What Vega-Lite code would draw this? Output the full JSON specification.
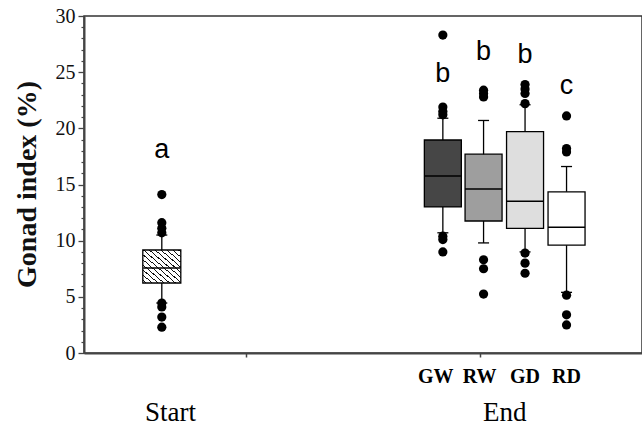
{
  "$schema": "https://vega.github.io/schema/vega-lite/v6.json",
  "width": 558,
  "height": 337,
  "autosize": {"type": "none"},
  "padding": {"left": 84, "top": 16, "right": 0, "bottom": 73},
  "background": "white",
  "config": {
    "view": {"stroke": "#333", "strokeWidth": 1.5},
    "axis": {"grid": false}
  },
  "resolve": {"axis": {"y": "independent"}},
  "datasets": {
    "boxes": [
      {"group": "Start", "pos": 0.93, "lo": 4.45, "q1": 6.23, "med": 7.57, "q3": 9.17, "hi": 10.5},
      {"group": "GW", "pos": 4.52, "lo": 10.7, "q1": 13.0, "med": 15.76, "q3": 18.96, "hi": 20.9},
      {"group": "RW", "pos": 5.04, "lo": 9.8, "q1": 11.75, "med": 14.6, "q3": 17.7, "hi": 20.7},
      {"group": "GD", "pos": 5.57, "lo": 9.0, "q1": 11.1, "med": 13.5, "q3": 19.7, "hi": 22.1},
      {"group": "RD", "pos": 6.1, "lo": 5.4, "q1": 9.6, "med": 11.2, "q3": 14.35, "hi": 16.6}
    ],
    "outliers": [
      {"group": "Start", "pos": 0.93, "value": 14.1},
      {"group": "Start", "pos": 0.93, "value": 11.6},
      {"group": "Start", "pos": 0.93, "value": 11.1},
      {"group": "Start", "pos": 0.93, "value": 10.7},
      {"group": "Start", "pos": 0.93, "value": 4.45},
      {"group": "Start", "pos": 0.93, "value": 4.1},
      {"group": "Start", "pos": 0.93, "value": 3.2},
      {"group": "Start", "pos": 0.93, "value": 2.3},
      {"group": "GW", "pos": 4.52, "value": 28.3},
      {"group": "GW", "pos": 4.52, "value": 21.9},
      {"group": "GW", "pos": 4.52, "value": 21.5},
      {"group": "GW", "pos": 4.52, "value": 21.2},
      {"group": "GW", "pos": 4.52, "value": 10.4},
      {"group": "GW", "pos": 4.52, "value": 10.1},
      {"group": "GW", "pos": 4.52, "value": 9.0},
      {"group": "RW", "pos": 5.04, "value": 23.4},
      {"group": "RW", "pos": 5.04, "value": 23.1},
      {"group": "RW", "pos": 5.04, "value": 22.8},
      {"group": "RW", "pos": 5.04, "value": 8.3},
      {"group": "RW", "pos": 5.04, "value": 7.5},
      {"group": "RW", "pos": 5.04, "value": 5.25},
      {"group": "GD", "pos": 5.57, "value": 23.9},
      {"group": "GD", "pos": 5.57, "value": 23.5},
      {"group": "GD", "pos": 5.57, "value": 23.1},
      {"group": "GD", "pos": 5.57, "value": 22.2},
      {"group": "GD", "pos": 5.57, "value": 8.9},
      {"group": "GD", "pos": 5.57, "value": 8.0},
      {"group": "GD", "pos": 5.57, "value": 7.1},
      {"group": "RD", "pos": 6.1, "value": 21.1},
      {"group": "RD", "pos": 6.1, "value": 18.2},
      {"group": "RD", "pos": 6.1, "value": 17.9},
      {"group": "RD", "pos": 6.1, "value": 5.15},
      {"group": "RD", "pos": 6.1, "value": 3.4},
      {"group": "RD", "pos": 6.1, "value": 2.5}
    ],
    "letters": [
      {"text": "a", "pos": 0.93, "y": 17.4},
      {"text": "b", "pos": 4.52, "y": 24.1},
      {"text": "b", "pos": 5.04, "y": 26.1},
      {"text": "b", "pos": 5.57, "y": 25.8},
      {"text": "c", "pos": 6.1, "y": 23.1}
    ],
    "groupLabels": [
      {"text": "GW", "pos": 4.43, "y": -2.14},
      {"text": "RW", "pos": 4.99, "y": -2.14},
      {"text": "GD", "pos": 5.57, "y": -2.14},
      {"text": "RD", "pos": 6.1, "y": -2.14}
    ],
    "phaseLabels": [
      {"text": "Start", "pos": 1.04, "y": -5.3},
      {"text": "End", "pos": 5.31, "y": -5.3}
    ]
  },
  "encoding": {
    "x": {
      "field": "pos",
      "type": "quantitative",
      "scale": {"domain": [0, 7], "nice": false, "zero": false},
      "axis": {
        "orient": "bottom",
        "values": [2, 5],
        "labels": false,
        "title": null,
        "tickSize": 4,
        "tickColor": "#444",
        "tickWidth": 1.5,
        "domainColor": "#444",
        "domainWidth": 2
      }
    }
  },
  "layer": [
    {
      "data": {"name": "boxes"},
      "mark": {"type": "rule", "color": "black", "strokeWidth": 1.3},
      "encoding": {
        "y": {
          "field": "lo",
          "type": "quantitative",
          "scale": {"domain": [0, 30], "nice": false, "zero": true},
          "axis": {
            "orient": "left",
            "values": [0, 5, 10, 15, 20, 25, 30],
            "tickSize": 6,
            "tickColor": "#444",
            "tickWidth": 1.3,
            "domainColor": "#444",
            "domainWidth": 2,
            "labelFont": "Liberation Serif",
            "labelFontSize": 20,
            "labelColor": "#111",
            "labelPadding": 3,
            "labelOverlap": false,
            "labelFlush": false,
            "title": "Gonad index (%)",
            "titleFont": "Liberation Serif",
            "titleFontWeight": "bold",
            "titleFontSize": 28,
            "titleColor": "#111",
            "titleAngle": -90,
            "titleX": -57,
            "titleY": 168,
            "titleAlign": "center",
            "titleBaseline": "middle"
          }
        },
        "y2": {"field": "hi"}
      }
    },
    {
      "data": {"name": "boxes"},
      "mark": {"type": "tick", "orient": "horizontal", "color": "black", "size": 11, "thickness": 1.3, "opacity": 1},
      "encoding": {"y": {"field": "lo", "type": "quantitative", "axis": null}}
    },
    {
      "data": {"name": "boxes"},
      "mark": {"type": "tick", "orient": "horizontal", "color": "black", "size": 11, "thickness": 1.3, "opacity": 1},
      "encoding": {"y": {"field": "hi", "type": "quantitative", "axis": null}}
    },
    {
      "data": {"name": "boxes"},
      "transform": [{"filter": "datum.group === 'Start'"}],
      "mark": {
        "type": "bar",
        "size": 38,
        "stroke": "black",
        "strokeWidth": 1.3,
        "fill": {
          "gradient": "linear",
          "x1": 0, "y1": 1, "x2": 1, "y2": 0,
          "stops": [
            {"offset": 0, "color": "white"},
            {"offset": 0.0385, "color": "white"}, {"offset": 0.0385, "color": "#111"}, {"offset": 0.0545, "color": "#111"}, {"offset": 0.0545, "color": "white"},
            {"offset": 0.1154, "color": "white"}, {"offset": 0.1154, "color": "#111"}, {"offset": 0.1314, "color": "#111"}, {"offset": 0.1314, "color": "white"},
            {"offset": 0.1923, "color": "white"}, {"offset": 0.1923, "color": "#111"}, {"offset": 0.2083, "color": "#111"}, {"offset": 0.2083, "color": "white"},
            {"offset": 0.2692, "color": "white"}, {"offset": 0.2692, "color": "#111"}, {"offset": 0.2852, "color": "#111"}, {"offset": 0.2852, "color": "white"},
            {"offset": 0.3462, "color": "white"}, {"offset": 0.3462, "color": "#111"}, {"offset": 0.3622, "color": "#111"}, {"offset": 0.3622, "color": "white"},
            {"offset": 0.4231, "color": "white"}, {"offset": 0.4231, "color": "#111"}, {"offset": 0.4391, "color": "#111"}, {"offset": 0.4391, "color": "white"},
            {"offset": 0.5, "color": "white"}, {"offset": 0.5, "color": "#111"}, {"offset": 0.516, "color": "#111"}, {"offset": 0.516, "color": "white"},
            {"offset": 0.5769, "color": "white"}, {"offset": 0.5769, "color": "#111"}, {"offset": 0.5929, "color": "#111"}, {"offset": 0.5929, "color": "white"},
            {"offset": 0.6538, "color": "white"}, {"offset": 0.6538, "color": "#111"}, {"offset": 0.6698, "color": "#111"}, {"offset": 0.6698, "color": "white"},
            {"offset": 0.7308, "color": "white"}, {"offset": 0.7308, "color": "#111"}, {"offset": 0.7468, "color": "#111"}, {"offset": 0.7468, "color": "white"},
            {"offset": 0.8077, "color": "white"}, {"offset": 0.8077, "color": "#111"}, {"offset": 0.8237, "color": "#111"}, {"offset": 0.8237, "color": "white"},
            {"offset": 0.8846, "color": "white"}, {"offset": 0.8846, "color": "#111"}, {"offset": 0.9006, "color": "#111"}, {"offset": 0.9006, "color": "white"},
            {"offset": 0.9615, "color": "white"}, {"offset": 0.9615, "color": "#111"}, {"offset": 0.9775, "color": "#111"}, {"offset": 0.9775, "color": "white"},
            {"offset": 1, "color": "white"}
          ]
        }
      },
      "encoding": {
        "y": {"field": "q3", "type": "quantitative", "axis": null},
        "y2": {"field": "q1"}
      }
    },
    {
      "data": {"name": "boxes"},
      "transform": [{"filter": "datum.group !== 'Start'"}],
      "mark": {"type": "bar", "size": 37, "stroke": "black", "strokeWidth": 1.3, "opacity": 1},
      "encoding": {
        "y": {"field": "q3", "type": "quantitative", "axis": null},
        "y2": {"field": "q1"},
        "fill": {
          "field": "group",
          "type": "nominal",
          "scale": {"domain": ["GW", "RW", "GD", "RD"], "range": ["#464646", "#9e9e9e", "#dedede", "#ffffff"]},
          "legend": null
        }
      }
    },
    {
      "data": {"name": "boxes"},
      "mark": {"type": "tick", "orient": "horizontal", "color": "black", "size": 37, "thickness": 1.5, "opacity": 1},
      "encoding": {"y": {"field": "med", "type": "quantitative", "axis": null}}
    },
    {
      "data": {"name": "outliers"},
      "mark": {"type": "point", "filled": true, "color": "black", "size": 85, "opacity": 1},
      "encoding": {
        "y": {
          "field": "value",
          "type": "quantitative",
          "axis": {
            "orient": "left",
            "values": [1,2,3,4,6,7,8,9,11,12,13,14,16,17,18,19,21,22,23,24,26,27,28,29],
            "labels": false,
            "domain": false,
            "title": null,
            "tickSize": 3,
            "tickColor": "#444",
            "tickWidth": 1.2
          }
        }
      }
    },
    {
      "data": {"name": "letters"},
      "mark": {"type": "text", "font": "Liberation Sans", "fontSize": 27, "color": "black", "baseline": "alphabetic", "align": "center"},
      "encoding": {"y": {"field": "y", "type": "quantitative", "axis": null}, "text": {"field": "text"}}
    },
    {
      "data": {"name": "groupLabels"},
      "mark": {"type": "text", "font": "Liberation Serif", "fontWeight": "bold", "fontSize": 20, "color": "black", "baseline": "middle", "align": "center"},
      "encoding": {"y": {"field": "y", "type": "quantitative", "axis": null}, "text": {"field": "text"}}
    },
    {
      "data": {"name": "phaseLabels"},
      "mark": {"type": "text", "font": "Liberation Serif", "fontSize": 27, "color": "black", "baseline": "middle", "align": "center"},
      "encoding": {"y": {"field": "y", "type": "quantitative", "axis": null}, "text": {"field": "text"}}
    }
  ]
}
